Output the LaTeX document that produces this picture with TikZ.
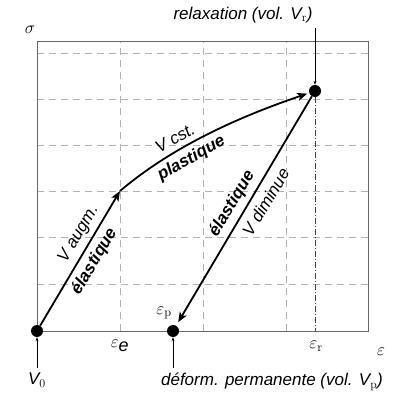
\documentclass[tikz,border=0pt]{standalone}
\usepackage{fontspec}
\setsansfont{Liberation Sans}
\usetikzlibrary{arrows.meta}
\begin{document}
\begin{tikzpicture}[x=1pt, y=1pt,
    dot_style/.style={circle, fill=black, minimum size=12pt, inner sep=0pt},
    path_style/.style={line width=1.8pt, -{Stealth[length=10pt, width=8pt, inset=2.5pt]}},
    lbl_style/.style={font=\sffamily\itshape\fontsize{17}{20}\selectfont, inner sep=5pt},
    bold_style/.style={font=\sffamily\bfseries\itshape\fontsize{17}{20}\selectfont, inner sep=5pt},
    math_style/.style={font=\fontsize{18}{20}\selectfont},
    grid_style/.style={gray!60, dash pattern=on 7pt off 5pt, line width=0.6pt},
    pin_style/.style={line width=0.5pt, -{Stealth[length=4pt, width=3pt]}}
]
\useasboundingbox (0,0) rectangle (394,395);
% grid
\foreach \x in {120,203,286} {
    \draw[grid_style] (\x,64) -- (\x,354);
}
\foreach \y in {111,157.2,203.4,249.6,295.8,342} {
    \draw[grid_style] (37,\y) -- (368,\y);
}
\draw[gray!80!black, line width=0.8pt] (37,64) rectangle (368,354);
% states
\node[dot_style] (V0) at (37,64) {};
\coordinate (E) at (120,204);
\node[dot_style] (R) at (315,304) {};
\node[dot_style] (P) at (173,64) {};
\draw[gray!50!black, line width=0.6pt, dash pattern=on 6pt off 2pt on 1pt off 2pt] (R) -- (315,64);
% axis labels
\node[math_style] (sig) at (30,365) {$\sigma$};
\node[math_style] (eps) at (381,43) {$\varepsilon$};
\node[math_style] (epse) at (120,49) {$\varepsilon_{\textsf{\textit{e}}}$};
\node[math_style] (epsr) at (316,49) {$\varepsilon_\mathrm{r}$};
\node[math_style] (epsp) at (164,82) {$\varepsilon_\mathrm{p}$};
% paths
\draw[path_style] (V0) -- (E)
    node[lbl_style, sloped, above, pos=0.63] {V augm.}
    node[bold_style, sloped, below, pos=0.53] {élastique};
\draw[path_style, shorten >=2pt] (E) .. controls (172,248) and (237,277.5) .. (R)
    node[lbl_style, sloped, above, pos=0.36] {V cst.}
    node[bold_style, sloped, below, pos=0.38] {plastique};
\draw[path_style, shorten >=4pt] (R) -- (P)
    node[bold_style, sloped, above, pos=0.5] {élastique}
    node[lbl_style, sloped, below=2pt, pos=0.43] {V diminue};
% pins
\node[lbl_style] (relax) at (243,380) {relaxation (vol. V$_\mathrm{r}$)};
\node[lbl_style] (v0lbl) at (37,15) {V$_0$};
\node[lbl_style] (perm) at (272,13) {déform. permanente (vol. V$_\mathrm{p}$)};
\draw[pin_style] (relax.south -| R) -- (R);
\draw[pin_style] (v0lbl) -- (V0);
\draw[pin_style] (perm.north -| P) -- (P);
\end{tikzpicture}
\end{document}
